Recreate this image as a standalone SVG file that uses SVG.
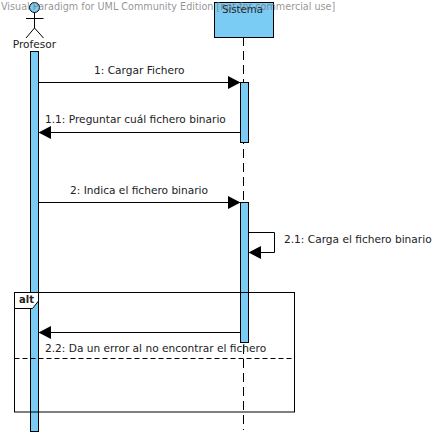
<svg xmlns="http://www.w3.org/2000/svg" width="448" height="436" viewBox="0 0 448 436">
<style>
text{font-family:"DejaVu Sans",sans-serif;font-size:10.6px;fill:#222}
text.wm{fill:#707070;fill-opacity:.75;font-size:9.65px}
.l{fill:none;stroke:#000;stroke-width:1}
.a{fill:#7accf5;stroke:#000;stroke-width:1}
.ah{fill:#000;stroke:none}
.d{fill:none;stroke:#000;stroke-width:1;stroke-dasharray:9 5}
</style>
<rect width="448" height="436" fill="#fff"/>
<g id="lifeline-sistema"><path class="d" d="M243.5 37V430"/></g>
<g id="profesor">
<circle class="a" cx="34.500" cy="7.500" r="5"/>
<path class="l" d="M34.500 12.500V28M26 18.500H43.500M34.500 28L26 38M34.500 28L43.500 38"/>
<text x="34.500" y="48" text-anchor="middle">Profesor</text>
<rect class="a" x="30.500" y="51.500" width="8" height="380"/>
</g>
<g id="sistema">
<rect class="a" x="214.500" y="2.500" width="59" height="35"/>
<text x="242.500" y="13" text-anchor="middle" style="font-size:10.2px">Sistema</text>
<rect class="a" x="240.500" y="82.500" width="8" height="60"/>
<rect class="a" x="240.500" y="202.500" width="8" height="140"/>
</g>
<g id="fragment-alt">
<rect class="l" x="14.500" y="292.500" width="280" height="119.500"/>
<path d="M14.500 292.500H38.500V301L32.500 308.500H14.500Z" fill="#fff" stroke="#000"/>
<text x="19" y="303" style="font-weight:bold;font-size:10px">alt</text>
<path class="l" d="M14.500 358.500H294.500" stroke-dasharray="5 3"/>
</g>
<g id="connectors">
<path class="l" d="M38.500 82.500H230"/><path class="ah" d="M240.500 82.500L228 76V89Z"/>
<path class="l" d="M240.500 132.500H50"/><path class="ah" d="M38.500 132.500L51 126V139Z"/>
<path class="l" d="M38.500 202.500H230"/><path class="ah" d="M240.500 202.500L228 196V209Z"/>
<path class="l" d="M248.500 232.500H274.500V252.500H260"/><path class="ah" d="M248.500 252.500L261 246V259Z"/>
<path class="l" d="M240.500 332.500H50"/><path class="ah" d="M38.500 332.500L51 326V339Z"/>
</g>
<g id="labels">
<text x="94" y="74">1: Cargar Fichero</text>
<text x="45" y="123">1.1: Preguntar cuál fichero binario</text>
<text x="70" y="194">2: Indica el fichero binario</text>
<text x="284" y="243">2.1: Carga el fichero binario</text>
<text x="45" y="352">2.2: Da un error al no encontrar el fichero</text>
</g>
<text class="wm" x="1" y="10">Visual Paradigm for UML Community Edition [not for commercial use]</text>
</svg>
